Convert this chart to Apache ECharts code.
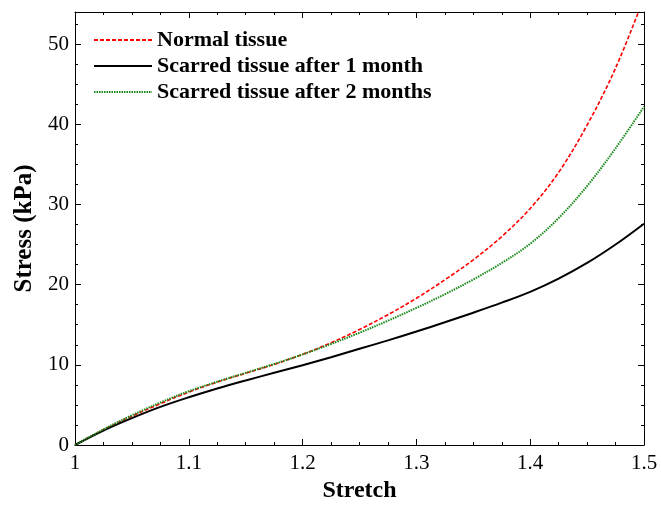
<!DOCTYPE html>
<html>
<head>
<meta charset="utf-8">
<script src="https://cdn.jsdelivr.net/npm/echarts@6/dist/echarts.min.js"></script>
<style>html,body{margin:0;padding:0;background:#fff;}#c{width:661px;height:508px;}</style>
</head>
<body>
<div id="c"></div>
<script>
var stretch = [1.000,1.025,1.050,1.075,1.100,1.125,1.150,1.175,1.200,1.225,1.250,1.275,1.300,1.325,1.350,1.375,1.400,1.425,1.450,1.475,1.500];
var normalTissue = [0,1.9,3.6,5.15,6.6,7.85,8.95,10.05,11.3,12.75,14.4,16.25,18.3,20.6,23.1,26.0,29.5,34.0,39.9,47.0,55.8];
var scarred1Month = [0,1.8,3.35,4.75,5.95,7.05,8.05,9.0,9.95,10.95,12.0,13.05,14.15,15.3,16.5,17.75,19.1,20.75,22.7,25.0,27.6];
var scarred2Months = [0,1.95,3.7,5.3,6.7,7.9,9.0,10.1,11.3,12.6,14.0,15.5,17.1,18.8,20.65,22.7,25.1,28.3,32.3,37.0,42.2];
var seriesNames = ['Normal tissue','Scarred tissue after 1 month','Scarred tissue after 2 months'];

function pairs(ys){ return stretch.map(function(x,i){ return [x, ys[i]]; }); }

var serif = 'Liberation Serif';
var chart = echarts.init(document.getElementById('c'), null, {renderer:'canvas'});
var tickCommon = {inside:true, length:6, lineStyle:{color:'#000', width:1}};
var minorCommon = {show:true, splitNumber:4, length:3, lineStyle:{color:'#000', width:1}};
chart.setOption({
  animation:false,
  backgroundColor:'#fff',
  grid:{left:75, right:17, top:12, bottom:60},
  legend:{
    orient:'vertical', left:93, top:29, padding:0,
    itemWidth:58, itemHeight:14, itemGap:4,
    itemStyle:{opacity:0},
    textStyle:{fontFamily:serif, fontWeight:'bold', fontSize:22, color:'#000'},
    data:seriesNames
  },
  xAxis:[{
    type:'value', min:1, max:1.5, interval:0.1,
    name:'Stretch', nameLocation:'middle', nameGap:34,
    nameTextStyle:{fontFamily:serif, fontWeight:'bold', fontSize:24, color:'#000'},
    axisLine:{show:true, onZero:false, lineStyle:{color:'#000', width:1}},
    axisTick:tickCommon, minorTick:minorCommon,
    splitLine:{show:false},
    axisLabel:{fontFamily:serif, fontSize:21, color:'#000', margin:8,
      formatter:function(v){ return String(Math.round(v*10)/10); }}
  },{
    type:'value', min:1, max:1.5, interval:0.1, position:'top',
    axisLine:{show:true, onZero:false, lineStyle:{color:'#000', width:1}},
    axisTick:tickCommon, minorTick:minorCommon,
    splitLine:{show:false}, axisLabel:{show:false}
  }],
  yAxis:[{
    type:'value', min:0, max:54, interval:10,
    name:'Stress (kPa)', nameLocation:'middle', nameGap:36, nameRotate:90,
    nameTextStyle:{fontFamily:serif, fontWeight:'bold', fontSize:25, color:'#000'},
    axisLine:{show:true, onZero:false, lineStyle:{color:'#000', width:1}},
    axisTick:tickCommon, minorTick:minorCommon,
    splitLine:{show:false},
    axisLabel:{fontFamily:serif, fontSize:21, color:'#000', margin:6, showMaxLabel:false,
      formatter:function(v){ return v%10===0 ? String(v) : ''; }}
  },{
    type:'value', min:0, max:54, interval:10, position:'right',
    axisLine:{show:true, onZero:false, lineStyle:{color:'#000', width:1}},
    axisTick:tickCommon, minorTick:minorCommon,
    splitLine:{show:false}, axisLabel:{show:false}
  }],
  series:[{
    name:seriesNames[0], type:'line', data:pairs(normalTissue), smooth:0.35, symbol:'none', clip:true,
    lineStyle:{color:'#ff0000', width:1.6, type:[4,2]}, itemStyle:{color:'#ff0000'}
  },{
    name:seriesNames[1], type:'line', data:pairs(scarred1Month), smooth:0.35, symbol:'none', clip:true,
    lineStyle:{color:'#000000', width:2}, itemStyle:{color:'#000000'}
  },{
    name:seriesNames[2], type:'line', data:pairs(scarred2Months), smooth:0.35, symbol:'none', clip:true,
    lineStyle:{color:'#1a8a1a', width:2, type:[1.5,1]}, itemStyle:{color:'#1a8a1a'}
  }]
});
</script>
</body>
</html>
